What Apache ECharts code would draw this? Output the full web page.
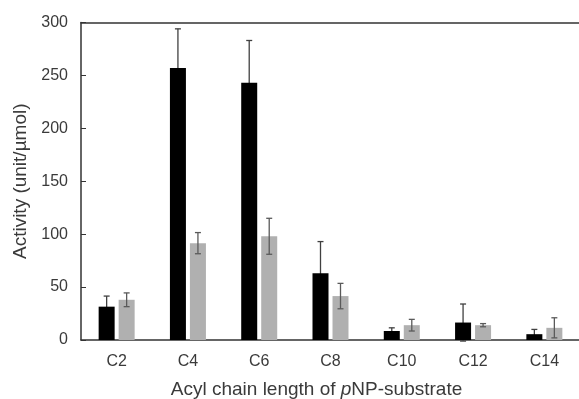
<!DOCTYPE html>
<html>
<head>
<meta charset="utf-8">
<script src="https://cdn.jsdelivr.net/npm/echarts@6/dist/echarts.min.js"></script>
<style>html,body{margin:0;padding:0;background:#fff;}#c{width:579px;height:399px;}</style>
</head>
<body>
<div id="c"></div>
<script>
var categories = ['C2', 'C4', 'C6', 'C8', 'C10', 'C12', 'C14'];
var blackValues = [31.5, 257, 243, 63, 8.5, 16.5, 5.5];
var blackErrors = [10, 37, 40, 30, 3, 17.5, 4.5];
var grayValues = [38, 91.5, 98, 41.5, 14, 14, 11.5];
var grayErrors = [6.5, 10, 17, 12, 5.5, 1.5, 9.5];
var yTicks = [0, 50, 100, 150, 200, 250, 300];

var FONT = 'Liberation Sans, Arial, sans-serif';
var TXT = '#3a3a3a';
var AX = '#333333';

function errData(vals, errs) {
  return vals.map(function (v, i) { return [i, v - errs[i], v + errs[i]]; });
}
function errRender(offset, color, cap) {
  return function (params, api) {
    var i = api.value(0);
    var lo = api.coord([i, api.value(1)]);
    var hi = api.coord([i, api.value(2)]);
    var x = lo[0] + offset;
    var st = { stroke: color, lineWidth: 1.3 };
    return {
      type: 'group',
      children: [
        { type: 'line', shape: { x1: x, y1: lo[1], x2: x, y2: hi[1] }, style: st },
        { type: 'line', shape: { x1: x - cap, y1: hi[1], x2: x + cap, y2: hi[1] }, style: st },
        { type: 'line', shape: { x1: x - cap, y1: lo[1], x2: x + cap, y2: lo[1] }, style: st }
      ]
    };
  };
}

var chart = echarts.init(document.getElementById('c'), null, { renderer: 'canvas' });
chart.setOption({
  animation: false,
  backgroundColor: '#ffffff',
  textStyle: { fontFamily: FONT },
  grid: { left: 81, right: -1, top: 22.5, bottom: 59, containLabel: false, outerBoundsMode: 'none' },
  xAxis: [{
    type: 'category',
    data: categories,
    axisLine: { lineStyle: { color: AX, width: 1.5 } },
    axisTick: { show: false },
    axisLabel: { color: TXT, fontSize: 16, fontFamily: FONT, margin: 14 },
    name: 'Acyl chain length of {i|p}NP-substrate',
    nameLocation: 'middle',
    nameGap: 40,
    nameTextStyle: {
      color: TXT, fontSize: 19, fontFamily: FONT, padding: [0, 28, 0, 0],
      rich: { i: { fontStyle: 'italic', fontSize: 19, color: TXT, fontFamily: FONT } }
    }
  }, {
    type: 'category',
    data: categories,
    position: 'top',
    axisLine: { show: true, lineStyle: { color: AX, width: 1.5 } },
    axisTick: { show: false },
    axisLabel: { show: false }
  }],
  yAxis: {
    type: 'value',
    min: 0, max: 300, interval: 50,
    axisLine: { show: true, lineStyle: { color: AX, width: 1.5 } },
    axisTick: { show: true, inside: true, length: 5, lineStyle: { color: AX } },
    splitLine: { show: false },
    axisLabel: {
      color: TXT, fontSize: 16, fontFamily: FONT, margin: 13,
      formatter: function (v) { return yTicks.indexOf(v) >= 0 ? String(v) : ''; }
    },
    name: 'Activity (unit/µmol)',
    nameLocation: 'middle',
    nameGap: 46,
    nameTextStyle: { color: TXT, fontSize: 19, fontFamily: FONT }
  },
  series: [
    {
      type: 'custom', z: 1,
      data: errData(blackValues, blackErrors),
      encode: { x: 0, y: [1, 2] },
      renderItem: errRender(-10, '#404040', 3)
    },
    {
      type: 'bar', z: 2,
      data: blackValues,
      barWidth: 16, barGap: '25%',
      itemStyle: { color: '#000000' }
    },
    {
      type: 'bar', z: 2,
      data: grayValues,
      barWidth: 16, barGap: '25%',
      itemStyle: { color: '#b0b0b0' }
    },
    {
      type: 'custom', z: 3,
      data: errData(grayValues, grayErrors),
      encode: { x: 0, y: [1, 2] },
      renderItem: errRender(10, '#5a5a5a', 3)
    }
  ]
});
</script>
</body>
</html>
